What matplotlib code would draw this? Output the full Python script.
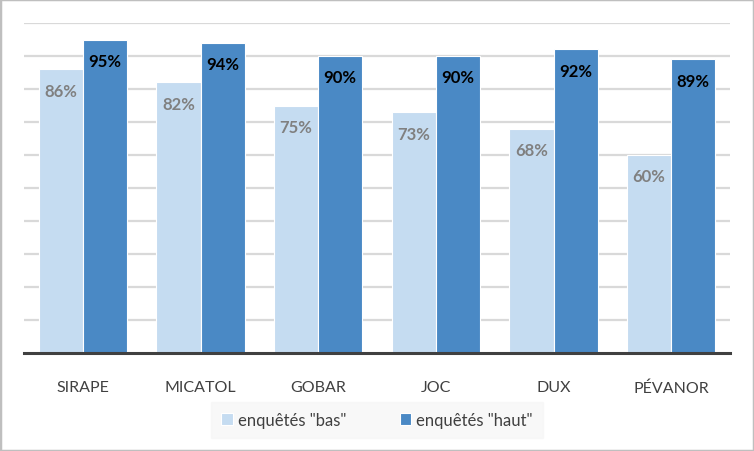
import numpy as np
import matplotlib.pyplot as plt
from matplotlib.patches import Rectangle

plt.rcParams['font.family'] = ['Lato', 'DejaVu Sans']

marques = ["SIRAPE", "MICATOL", "GOBAR", "JOC", "DUX", "PÉVANOR"]
bas = [86, 82, 75, 73, 68, 60]
haut = [95, 94, 90, 90, 92, 89]
series = ['enquêtés "bas"', 'enquêtés "haut"']

c_bas = "#C5DCF1"
c_haut = "#4A89C5"

fig = plt.figure(figsize=(7.54, 4.52), dpi=100)
ax = fig.add_axes([24 / 754, 98 / 452, 706 / 754, 330 / 452])

x = np.arange(len(marques))
w = 0.375
b1 = ax.bar(x - w / 2, bas, w, color=c_bas, edgecolor="white", linewidth=0.8, label=series[0], zorder=3)
b2 = ax.bar(x + w / 2, haut, w, color=c_haut, edgecolor="white", linewidth=0.8, label=series[1], zorder=3)

# étiquettes dans le haut des barres
for rect, v in zip(b1, bas):
    ax.text(rect.get_x() + rect.get_width() / 2, v - 6.5, f"{v}%", ha="center", va="center",
            fontsize=12, fontweight="bold", color="#808080", zorder=4)
for rect, v in zip(b2, haut):
    ax.text(rect.get_x() + rect.get_width() / 2, v - 6.5, f"{v}%", ha="center", va="center",
            fontsize=12, fontweight="bold", color="#000000", zorder=4)

ax.set_xlim(-0.5, len(marques) - 0.5)
ax.set_ylim(0, 100)
ax.set_yticks(np.arange(10, 101, 10))
ax.yaxis.grid(True, color="#D9D9D9", linewidth=1.6, zorder=0)
ax.tick_params(axis="y", left=False, labelleft=False)
ax.tick_params(axis="x", bottom=False, labelsize=11.5, labelcolor="#404040", pad=16)
ax.set_xticks(x)
ax.set_xticklabels(marques)
for s in ["top", "right", "left"]:
    ax.spines[s].set_visible(False)
ax.spines["bottom"].set_color("#404040")
ax.spines["bottom"].set_linewidth(2.2)
ax.spines["bottom"].set_zorder(5)

leg = fig.legend(loc="center", bbox_to_anchor=(377 / 754, 1 - 421 / 452), ncol=2,
                 frameon=True, fontsize=12, handlelength=0.7, handleheight=0.7,
                 columnspacing=3.2, handletextpad=0.3, borderpad=0.6, borderaxespad=0,
                 fancybox=False)
leg.get_frame().set_facecolor("#F7F7F7")
leg.get_frame().set_edgecolor("#F7F7F7")
for t in leg.get_texts():
    t.set_color("#404040")

fig.patches.append(Rectangle((0, 0), 1, 1, transform=fig.transFigure, fill=False,
                             edgecolor="#BFBFBF", linewidth=2.5))

fig.savefig("out.png", dpi=100)
